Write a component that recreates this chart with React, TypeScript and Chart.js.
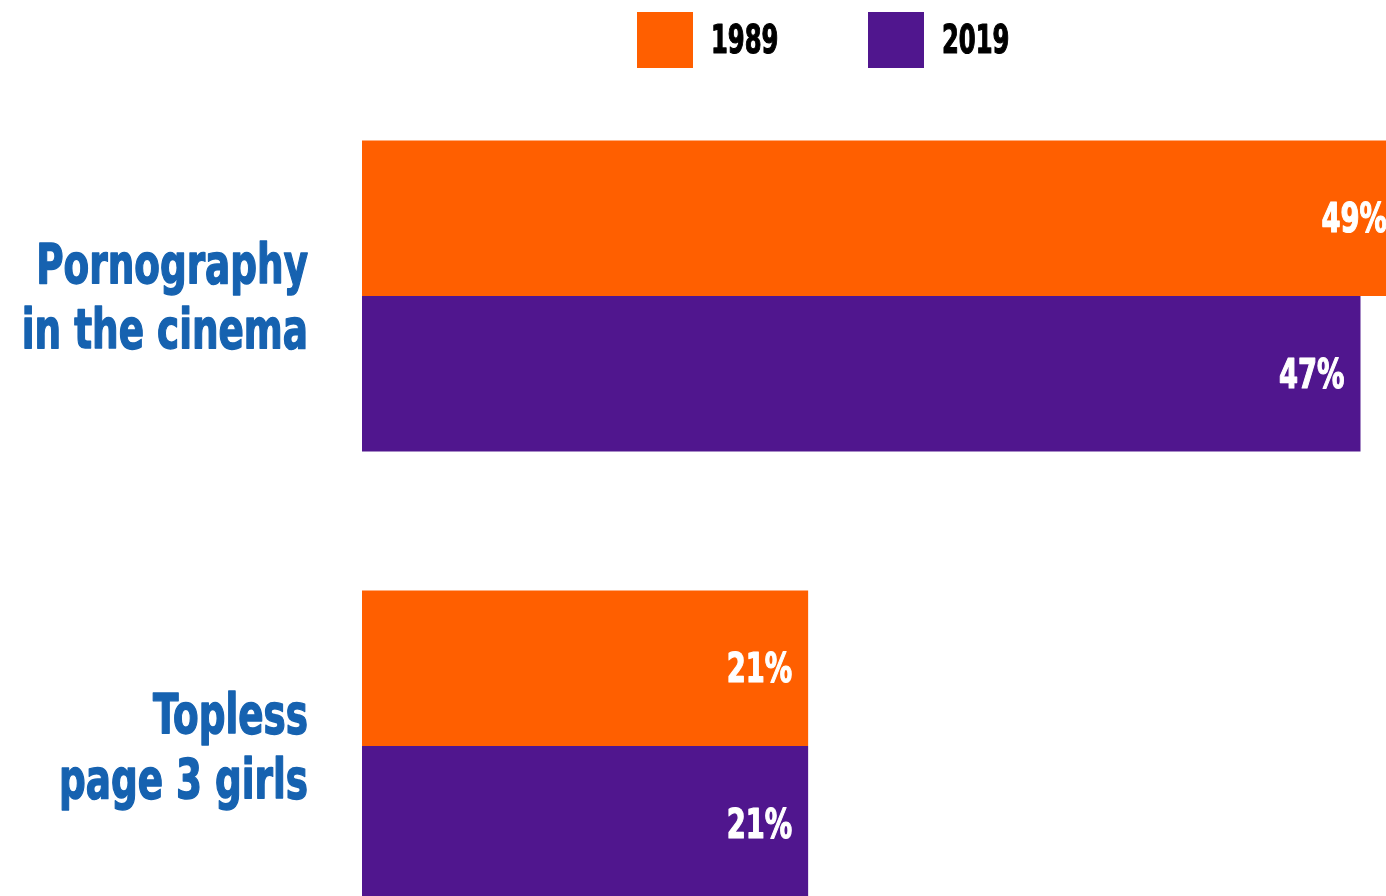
import React, { useEffect, useRef } from "react";
import { Chart, registerables } from "chart.js";

Chart.register(...registerables);

// ---- data ----
const categories: string[][] = [
  ["Pornography", "in the cinema"],
  ["Topless", "page 3 girls"],
];
const seriesNames = ["1989", "2019"];
const values1989 = [49, 21];
const values2019 = [47, 21];
const seriesColors = ["#FF5F00", "#50168E"];
const labelColor = "#1662B0";

const FONT = "'DejaVu Sans Condensed', 'DejaVu Sans', sans-serif";

// draw text squeezed horizontally (and slightly emboldened) to mimic a heavy condensed face
function squeezedText(ctx: any, text: string, x: number, y: number, sx: number, align: string, bold: number) {
  ctx.save();
  ctx.translate(x, y);
  ctx.scale(sx, 1);
  ctx.textAlign = align;
  ctx.textBaseline = "alphabetic";
  ctx.fillText(text, 0, 0);
  if (bold > 0) {
    ctx.strokeStyle = ctx.fillStyle;
    ctx.lineWidth = bold;
    ctx.lineJoin = "round";
    ctx.strokeText(text, 0, 0);
  }
  ctx.restore();
}

const legendPlugin = {
  id: "customLegend",
  afterDraw(chart: any) {
    const ctx = chart.ctx;
    const positions = [637, 868];
    ctx.save();
    chart.data.datasets.forEach((ds: any, i: number) => {
      const x = positions[i];
      ctx.fillStyle = ds.backgroundColor;
      ctx.fillRect(x, 12, 56, 56);
      ctx.fillStyle = "#000000";
      ctx.font = `bold 39px ${FONT}`;
      squeezedText(ctx, ds.label, x + 74, 53, 0.69, "left", 1.2);
    });
    ctx.restore();
  },
};

const categoryLabelPlugin = {
  id: "categoryLabels",
  afterDraw(chart: any) {
    const ctx = chart.ctx;
    const yScale = chart.scales.y;
    ctx.save();
    ctx.fillStyle = labelColor;
    ctx.font = `bold 55px ${FONT}`;
    (chart.data.labels as string[][]).forEach((lines, i) => {
      const cy = yScale.getPixelForValue(i);
      lines.forEach((line, k) => {
        squeezedText(ctx, line, yScale.right - 54, cy - 13 + 64.5 * k, 0.755, "right", 1.4);
      });
    });
    ctx.restore();
  },
};

const valueLabelPlugin = {
  id: "valueLabels",
  afterDatasetsDraw(chart: any) {
    const ctx = chart.ctx;
    ctx.save();
    ctx.font = `bold 40px ${FONT}`;
    ctx.fillStyle = "#FFFFFF";
    chart.data.datasets.forEach((ds: any, di: number) => {
      const meta = chart.getDatasetMeta(di);
      meta.data.forEach((bar: any, i: number) => {
        squeezedText(ctx, `${ds.data[i]}%`, bar.x - 16, bar.y + 14, 0.76, "right", 1.2);
      });
    });
    ctx.restore();
  },
};

export default function App() {
  const ref = useRef<HTMLCanvasElement | null>(null);

  useEffect(() => {
    if (!ref.current) return;
    const chart = new Chart(ref.current, {
      type: "bar",
      data: {
        labels: categories,
        datasets: [
          {
            label: seriesNames[0],
            data: values1989,
            backgroundColor: seriesColors[0],
            borderWidth: 0,
            barPercentage: 1,
            categoryPercentage: 0.691,
          },
          {
            label: seriesNames[1],
            data: values2019,
            backgroundColor: seriesColors[1],
            borderWidth: 0,
            barPercentage: 1,
            categoryPercentage: 0.691,
          },
        ],
      },
      options: {
        indexAxis: "y",
        responsive: false,
        animation: false,
        devicePixelRatio: 1,
        layout: { padding: { top: 71, left: 0, right: 0, bottom: 0 } },
        scales: {
          x: { display: false, min: 0, max: 48.2 },
          y: {
            grid: { display: false, drawTicks: false },
            border: { display: false },
            ticks: { display: false },
            afterFit: (scale: any) => {
              scale.width = 362;
              scale.paddingTop = 0;
              scale.paddingBottom = 0;
            },
          },
        },
        plugins: {
          legend: { display: false },
          tooltip: { enabled: false },
        },
      },
      plugins: [legendPlugin, categoryLabelPlugin, valueLabelPlugin],
    });
    return () => chart.destroy();
  }, []);

  return (
    <div
      style={{
        position: "fixed",
        left: 0,
        top: 0,
        width: 1386,
        height: 896,
        overflow: "hidden",
        background: "#ffffff",
      }}
    >
      <canvas ref={ref} width={1386} height={971} style={{ display: "block" }} />
    </div>
  );
}
